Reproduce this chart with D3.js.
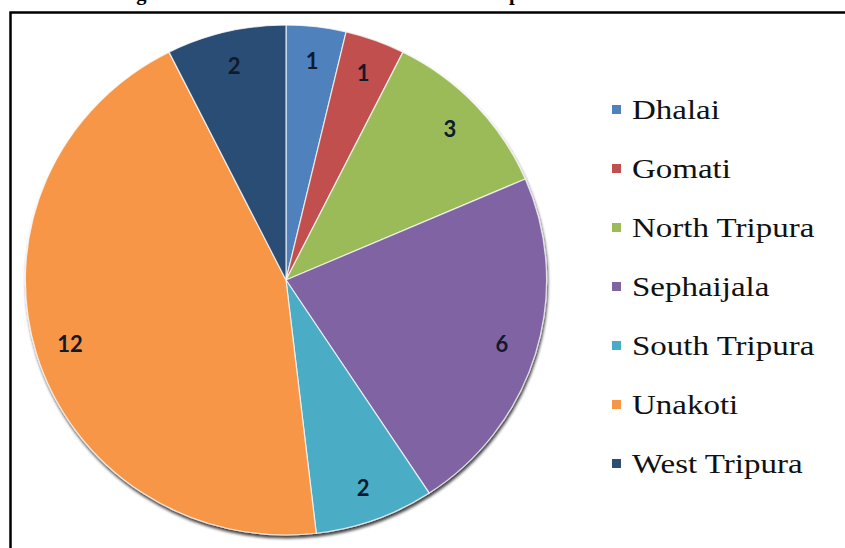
<!DOCTYPE html>
<html>
<head>
<meta charset="utf-8">
<script src="https://cdn.jsdelivr.net/npm/d3@7"></script>
<style>
  html, body { margin: 0; padding: 0; background: #fff; }
  svg { display: block; }
</style>
</head>
<body>
<svg id="chart" width="845" height="548"></svg>
<script>
// Water samples collected per district
const districts = ["Dhalai", "Gomati", "North Tripura", "Sephaijala", "South Tripura", "Unakoti", "West Tripura"];
const samples = [1, 1, 3, 6, 2, 12, 2];
const sliceColors = ["#4F81BD", "#C0504D", "#9BBB59", "#8064A2", "#4BACC6", "#F79646", "#2C4D75"];
const titleText = "Figure 3: Distribution of collected water samples from different districts";

const svg = d3.select("#chart");

// Caption sits above the framed figure (runs off the top edge of the page)
svg.append("text")
  .attr("x", 118).attr("y", 0)
  .attr("font-family", "Liberation Serif, Times New Roman, serif")
  .attr("font-weight", "bold")
  .attr("font-size", 20.5)
  .attr("fill", "#000")
  .text(titleText);

// Frame around the figure
svg.append("rect")
  .attr("x", 10.5).attr("y", 12.5)
  .attr("width", 900).attr("height", 600)
  .attr("fill", "none")
  .attr("stroke", "#000")
  .attr("stroke-width", 2.5);

const defs = svg.append("defs");
const shadow = defs.append("filter").attr("id", "pieShadow")
  .attr("x", "-10%").attr("y", "-10%").attr("width", "120%").attr("height", "120%");
shadow.append("feGaussianBlur").attr("in", "SourceAlpha").attr("stdDeviation", 1.6).attr("result", "b");
shadow.append("feOffset").attr("in", "b").attr("dx", 1).attr("dy", 3).attr("result", "o");
shadow.append("feComponentTransfer").attr("in", "o").attr("result", "s")
  .append("feFuncA").attr("type", "linear").attr("slope", 0.75);
const merge = shadow.append("feMerge");
merge.append("feMergeNode").attr("in", "s");
merge.append("feMergeNode").attr("in", "SourceGraphic");

const cx = 286, cy = 280, r = 255, sx = 1.022;

const color = d3.scaleOrdinal().domain(districts).range(sliceColors);
const pie = d3.pie().sort(null).value(d => d.v);
const data = districts.map((name, i) => ({ name, v: samples[i] }));
const arcs = pie(data);
const arc = d3.arc().innerRadius(0).outerRadius(r);
const labelArc = d3.arc().innerRadius(r * 0.865).outerRadius(r * 0.865);

const g = svg.append("g")
  .attr("transform", `translate(${cx},${cy}) scale(${sx},1)`);

g.append("g").attr("filter", "url(#pieShadow)")
  .selectAll("path")
  .data(arcs)
  .join("path")
  .attr("d", arc)
  .attr("fill", d => color(d.data.name))
  .attr("stroke", "rgba(255,255,255,0.75)")
  .attr("stroke-width", 1.2)
  .attr("stroke-linejoin", "round");

// Value labels placed near the rim of each slice
svg.append("g")
  .selectAll("text")
  .data(arcs)
  .join("text")
  .attr("x", d => cx + labelArc.centroid(d)[0] * sx)
  .attr("y", d => cy + labelArc.centroid(d)[1])
  .attr("text-anchor", "middle")
  .attr("dominant-baseline", "central")
  .attr("font-family", "Lato, Carlito, Liberation Sans, sans-serif")
  .attr("font-weight", "bold")
  .attr("font-size", 22)
  .attr("fill", "#101a2c")
  .text(d => d.data.v);

// Legend
const legendY = d3.scalePoint().domain(districts).range([110, 464]);
const legend = svg.append("g")
  .selectAll("g")
  .data(districts)
  .join("g")
  .attr("transform", d => `translate(0,${legendY(d)})`);

legend.append("rect")
  .attr("x", 612).attr("y", -5)
  .attr("width", 9).attr("height", 9)
  .attr("fill", d => color(d));

legend.append("text")
  .attr("transform", "translate(632,0) scale(1.2,1)")
  .attr("dominant-baseline", "central")
  .attr("font-family", "Liberation Serif, Times New Roman, serif")
  .attr("font-size", 27.5)
  .attr("fill", "#111")
  .text(d => d);
</script>
</body>
</html>
